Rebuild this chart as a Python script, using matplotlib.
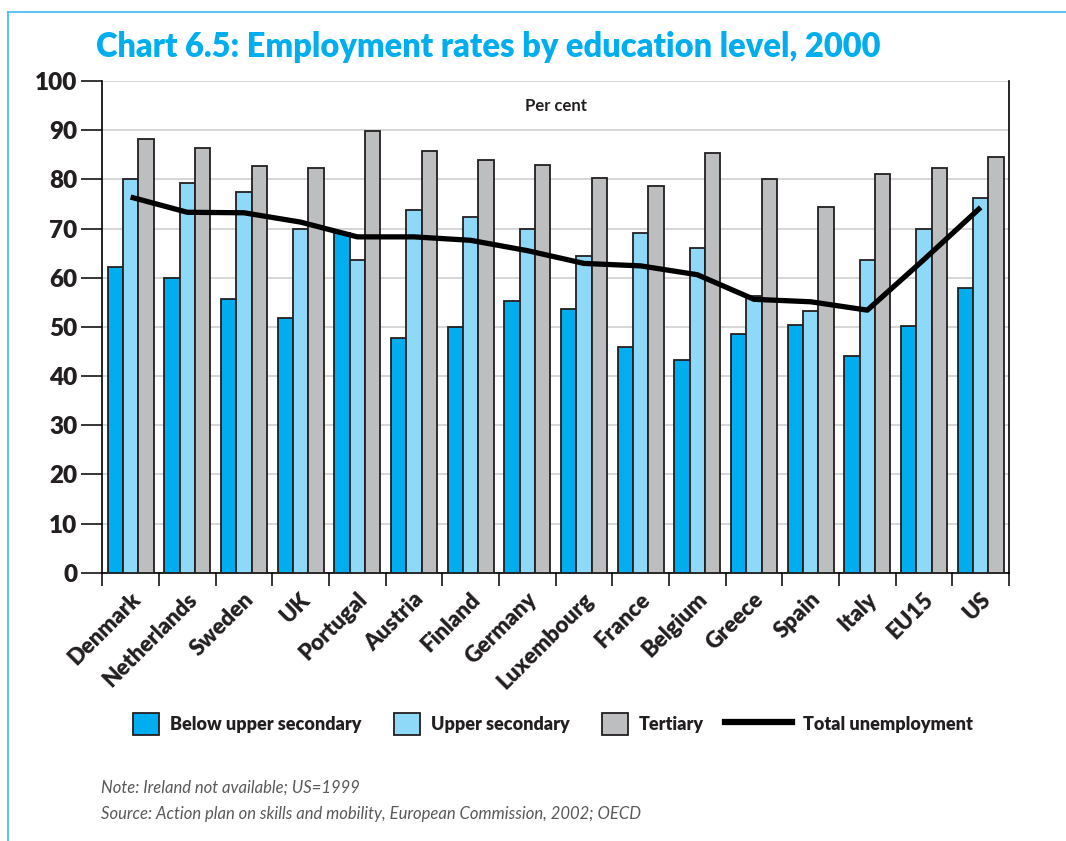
import matplotlib
matplotlib.use("Agg")
import matplotlib.pyplot as plt
import matplotlib.transforms as mtransforms
from matplotlib.patches import Patch
from matplotlib.lines import Line2D
import numpy as np

countries = ["Denmark", "Netherlands", "Sweden", "UK", "Portugal", "Austria",
             "Finland", "Germany", "Luxembourg", "France", "Belgium", "Greece",
             "Spain", "Italy", "EU15", "US"]
below_upper_secondary = [62.1, 60.0, 55.6, 51.7, 69.0, 47.7, 49.9, 55.3,
                         53.7, 46.0, 43.3, 48.5, 50.4, 44.0, 50.1, 57.8]
upper_secondary = [80.1, 79.3, 77.5, 69.9, 63.5, 73.7, 72.4, 69.9,
                   64.4, 69.0, 66.1, 56.2, 53.3, 63.6, 69.9, 76.2]
tertiary = [88.2, 86.3, 82.7, 82.4, 89.9, 85.8, 83.9, 83.0,
            80.2, 78.6, 85.4, 80.1, 74.4, 81.0, 82.4, 84.6]
total_unemployment = [76.4, 73.3, 73.2, 71.3, 68.3, 68.3, 67.6, 65.5,
                      62.9, 62.4, 60.6, 55.6, 55.1, 53.4, 63.7, 74.3]
y_ticks = [0, 10, 20, 30, 40, 50, 60, 70, 80, 90, 100]
series_names = ["Below upper secondary", "Upper secondary", "Tertiary",
                "Total unemployment"]

C_BELOW = "#00AEEF"
C_UPPER = "#8ED8F8"
C_TERT = "#BCBEC0"
C_EDGE = "#231F20"
C_TITLE = "#00AEEF"
C_FRAME = "#4CC1F0"
FONT = "Lato"

W, H = 1066, 841
fig = plt.figure(figsize=(W / 100, H / 100), dpi=100)
fig.patch.set_facecolor("white")

ax = fig.add_axes([102.3 / W, 1 - 572.7 / H, (1009 - 102.3) / W, (572.7 - 81) / H])

x = np.arange(len(countries))
bw = 0.27
kw = dict(width=bw, edgecolor=C_EDGE, linewidth=1.3, zorder=3)
ax.bar(x - bw, below_upper_secondary, color=C_BELOW, **kw)
ax.bar(x, upper_secondary, color=C_UPPER, **kw)
ax.bar(x + bw, tertiary, color=C_TERT, **kw)
ax.plot(x, total_unemployment, color="black", linewidth=3.8,
        solid_joinstyle="round", solid_capstyle="butt", zorder=4)

ax.set_xlim(-0.5, len(countries) - 0.5)
ax.set_ylim(0, 100)

# horizontal grid behind the bars
ax.set_yticks(y_ticks)
ax.yaxis.grid(True, color="#CFCFCF", linewidth=1.2, zorder=0)
ax.set_axisbelow(True)

for side in ["left", "bottom", "right"]:
    ax.spines[side].set_color("black")
    ax.spines[side].set_linewidth(1.2)
ax.spines["top"].set_visible(False)

ax.tick_params(axis="y", length=15, width=1.1, pad=3, labelsize=17.5,
               labelcolor=C_EDGE)
for lab in ax.get_yticklabels():
    lab.set_fontfamily(FONT)
    lab.set_fontweight("heavy")

# group separators on the category axis
ax.set_xticks(np.arange(len(countries) + 1) - 0.5, minor=True)
ax.tick_params(axis="x", which="minor", length=9.5, width=1.1, direction="out")
ax.set_xticks(x)
ax.set_xticklabels(countries, rotation=45, ha="right", va="top",
                   rotation_mode="anchor", fontsize=16, fontfamily=FONT,
                   fontweight="heavy", color=C_EDGE)
ax.tick_params(axis="x", which="major", length=0, pad=0)
offset = mtransforms.ScaledTranslation(-0.01, -0.16, fig.dpi_scale_trans)
for lab in ax.get_xticklabels():
    lab.set_transform(lab.get_transform() + offset)

ax.text(0.5, 0.95, "Per cent", transform=ax.transAxes, ha="center",
        va="center", fontsize=12, fontfamily=FONT, fontweight="bold",
        color=C_EDGE)

# title
fig.text(96 / W, 1 - 57 / H, "Chart 6.5: Employment rates by education level, 2000",
         ha="left", va="baseline", fontsize=23.5, fontfamily=FONT,
         fontweight="heavy", color=C_TITLE)

# legend, one entry per block
handles = [
    Patch(facecolor=C_BELOW, edgecolor=C_EDGE, linewidth=1.3),
    Patch(facecolor=C_UPPER, edgecolor=C_EDGE, linewidth=1.3),
    Patch(facecolor=C_TERT, edgecolor=C_EDGE, linewidth=1.3),
    Line2D([], [], color="black", linewidth=4.5),
]
starts = [133, 394, 602, 725]
hlen = [1.45, 1.45, 1.45, 3.7]
for h, name, sx, hl in zip(handles, series_names, starts, hlen):
    leg = fig.legend([h], [name], loc="center left",
                     bbox_to_anchor=(sx / W, 1 - 724 / H), frameon=False,
                     borderpad=0, borderaxespad=0, handlelength=hl,
                     handleheight=1.45, handletextpad=0.6,
                     prop=dict(family=FONT, weight="heavy", size=13))
    for t in leg.get_texts():
        t.set_color(C_EDGE)

note_kw = dict(ha="left", va="baseline", fontsize=12, fontfamily=FONT,
               fontstyle="italic", fontweight="normal", color="#58595B")
fig.text(101 / W, 1 - 793 / H, "Note: Ireland not available; US=1999", **note_kw)
fig.text(101 / W, 1 - 819 / H,
         "Source: Action plan on skills and mobility, European Commission, 2002; OECD",
         **note_kw)

# page frame
fig.add_artist(Line2D([8 / W, 1], [1 - 11.7 / H, 1 - 11.7 / H], color=C_FRAME,
                      linewidth=1.3, transform=fig.transFigure))
fig.add_artist(Line2D([8 / W, 8 / W], [0, 1 - 11.7 / H], color=C_FRAME,
                      linewidth=1.3, transform=fig.transFigure))

fig.savefig("out.png", dpi=100)
